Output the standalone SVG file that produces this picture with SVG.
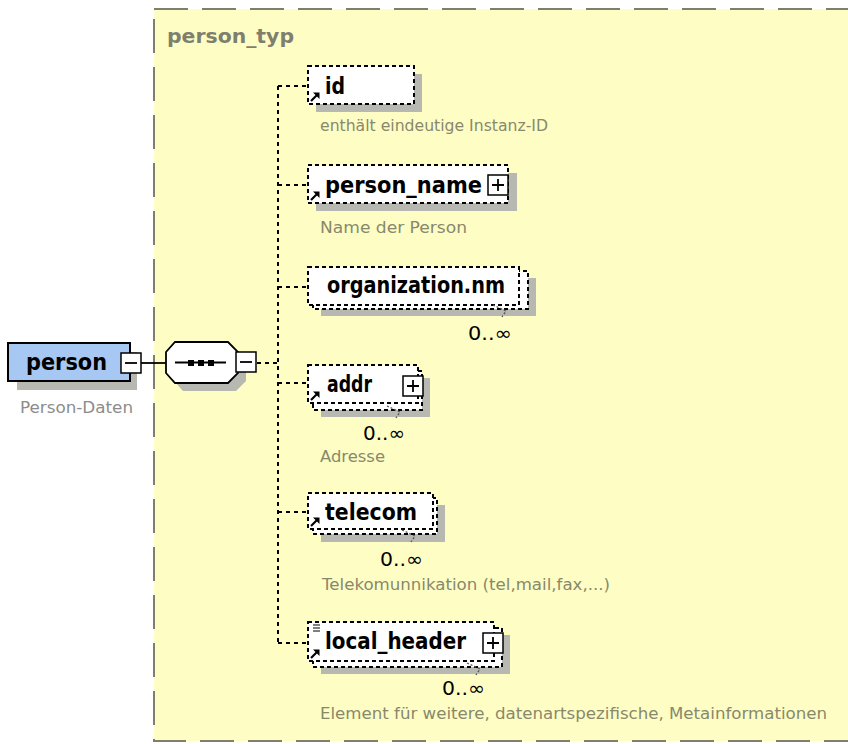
<svg xmlns="http://www.w3.org/2000/svg" xmlns:xlink="http://www.w3.org/1999/xlink" width="848" height="744" viewBox="0 0 848 744">
  <style>
    .panel { fill: #fefec4; stroke: #7f7f6e; stroke-width: 2; stroke-dasharray: 34 14; }
    .sh { fill: #b8b8b2; }
    .el { fill: #ffffff; stroke: #000; stroke-width: 2; stroke-dasharray: 4 3; }
    .conn { fill: none; stroke: #000; stroke-width: 2; stroke-dasharray: 4 4; }
    .solid { fill: none; stroke: #000; stroke-width: 1.8; }
    .btn rect { fill: #fff; stroke: #000; stroke-width: 1.5; }
    .btn path { stroke: #000; stroke-width: 1.8; fill: none; }
    .name { font-family: "DejaVu Sans", Verdana, sans-serif; font-weight: bold; font-size: 23px; fill: #000; }
    .title { font-family: "DejaVu Sans", Verdana, sans-serif; font-weight: bold; font-size: 20px; fill: #7f7f6e; }
    .desc { font-family: "DejaVu Sans", Verdana, sans-serif; font-size: 16px; fill: #88886c; }
    .mult { font-family: "DejaVu Sans", Verdana, sans-serif; font-size: 19px; fill: #000; }
    .tick { fill: none; stroke: #555; stroke-width: 1.3; stroke-dasharray: 2 2; }
  </style>
  <defs>
    <g id="plus" class="btn">
      <rect x="0" y="0" width="20" height="20"/>
      <path d="M4 10H16M10 4V16"/>
    </g>
    <g id="minus" class="btn">
      <rect x="0" y="0" width="20" height="20"/>
      <path d="M4 10H16"/>
    </g>
    <g id="refArrow">
      <path d="M0 0L6 -6" stroke="#000" stroke-width="2.2" fill="none"/>
      <path d="M8.5 -8.5L8.5 -2L2 -8.5Z" fill="#000"/>
    </g>
  </defs>

  <!-- white page background -->
  <rect x="0" y="0" width="848" height="744" fill="#ffffff"/>

  <!-- complex type panel -->
  <g id="person_typ">
    <rect class="panel" x="154" y="9" width="730" height="732"/>
    <text class="title" x="167" y="43" textLength="127" lengthAdjust="spacingAndGlyphs">person_typ</text>
  </g>

  <!-- connectors -->
  <g id="connectors">
    <path class="solid" d="M141 363H166"/>
    <path class="conn" d="M257 363H278"/>
    <path class="conn" d="M278 86V643"/>
    <path class="conn" d="M278 86H308"/>
    <path class="conn" d="M278 185H308"/>
    <path class="conn" d="M278 287H308"/>
    <path class="conn" d="M278 383H308"/>
    <path class="conn" d="M278 512H308"/>
    <path class="conn" d="M278 643H308"/>
  </g>

  <!-- root element -->
  <g id="person">
    <rect class="sh" x="17" y="352" width="120" height="38"/>
    <rect x="8" y="343" width="122" height="38" fill="#a6c8f2" stroke="#000" stroke-width="2"/>
    <text class="name" x="26" y="370" textLength="81" lengthAdjust="spacingAndGlyphs">person</text>
    <use xlink:href="#minus" x="121" y="353"/>
    <text class="desc" x="20" y="413" style="fill:#8c8c8c" textLength="113" lengthAdjust="spacingAndGlyphs">Person-Daten</text>
  </g>

  <!-- sequence compositor -->
  <g id="sequence">
    <polygon class="sh" points="183,350 236,350 246,360 246,381 236,391 183,391 174,381 174,360"/>
    <polygon points="175,342 228,342 238,352 238,373 228,383 175,383 166,373 166,352" fill="#fff" stroke="#000" stroke-width="1.8"/>
    <path class="solid" d="M175 362.5H226"/>
    <rect x="188" y="360" width="6" height="6" fill="#000"/>
    <rect x="198" y="360" width="6" height="6" fill="#000"/>
    <rect x="208" y="360" width="6" height="6" fill="#000"/>
    <use xlink:href="#minus" x="236" y="352"/>
  </g>

  <!-- id -->
  <g id="id">
    <rect class="sh" x="316" y="74" width="106" height="38"/>
    <rect class="el" x="308" y="66" width="106" height="38"/>
    <use xlink:href="#refArrow" x="311" y="101"/>
    <text class="name" x="325" y="94" textLength="20" lengthAdjust="spacingAndGlyphs">id</text>
    <text class="desc" x="320" y="131" textLength="228" lengthAdjust="spacingAndGlyphs">enthält eindeutige Instanz-ID</text>
  </g>

  <!-- person_name -->
  <g id="person_name">
    <rect class="sh" x="316" y="173" width="201" height="38"/>
    <rect class="el" x="308" y="165" width="200" height="38"/>
    <use xlink:href="#refArrow" x="311" y="200"/>
    <text class="name" x="325" y="193" textLength="157" lengthAdjust="spacingAndGlyphs">person_name</text>
    <use xlink:href="#plus" x="488" y="175"/>
    <text class="desc" x="320" y="233" textLength="147" lengthAdjust="spacingAndGlyphs">Name der Person</text>
  </g>

  <!-- organization.nm -->
  <g id="organization_nm">
    <rect class="sh" x="321" y="278" width="215" height="38"/>
    <rect class="el" x="313" y="271" width="215" height="38"/>
    <rect class="el" x="308" y="267" width="211" height="38"/>
    <path class="tick" d="M493 305L506 311L502 317"/>
    <text class="name" x="327" y="293" textLength="178" lengthAdjust="spacingAndGlyphs">organization.nm</text>
    <text class="mult" x="468" y="340" textLength="44" lengthAdjust="spacingAndGlyphs">0..∞</text>
  </g>

  <!-- addr -->
  <g id="addr">
    <rect class="sh" x="321" y="378" width="109" height="39"/>
    <rect class="el" x="313" y="371" width="109" height="39"/>
    <rect class="el" x="308" y="365" width="110" height="38"/>
    <use xlink:href="#refArrow" x="311" y="400"/>
    <text class="name" x="327" y="392" textLength="45" lengthAdjust="spacingAndGlyphs">addr</text>
    <use xlink:href="#plus" x="403" y="376"/>
    <path class="tick" d="M387 406L400 412L396 418"/>
    <text class="mult" x="363" y="440" textLength="42" lengthAdjust="spacingAndGlyphs">0..∞</text>
    <text class="desc" x="320" y="462" textLength="65" lengthAdjust="spacingAndGlyphs">Adresse</text>
  </g>

  <!-- telecom -->
  <g id="telecom">
    <rect class="sh" x="321" y="505" width="124" height="37"/>
    <rect class="el" x="313" y="498" width="124" height="36"/>
    <rect class="el" x="308" y="493" width="125" height="36"/>
    <use xlink:href="#refArrow" x="311" y="526"/>
    <text class="name" x="325" y="520" textLength="92" lengthAdjust="spacingAndGlyphs">telecom</text>
    <path class="tick" d="M402 530L415 536L411 542"/>
    <text class="mult" x="380" y="566" textLength="43" lengthAdjust="spacingAndGlyphs">0..∞</text>
    <text class="desc" x="322" y="590" textLength="288" lengthAdjust="spacingAndGlyphs">Telekomunnikation (tel,mail,fax,...)</text>
  </g>

  <!-- local_header -->
  <g id="local_header">
    <rect class="sh" x="321" y="635" width="189" height="39"/>
    <rect class="el" x="313" y="628" width="189" height="39"/>
    <rect class="el" x="308" y="622" width="186" height="39"/>
    <path d="M313 625H320M313 628H320M313 631H320" stroke="#000" stroke-width="1"/>
    <use xlink:href="#refArrow" x="311" y="658"/>
    <text class="name" x="325" y="649" textLength="141" lengthAdjust="spacingAndGlyphs">local_header</text>
    <use xlink:href="#plus" x="483" y="633"/>
    <path class="tick" d="M467 663L480 669L476 675"/>
    <text class="mult" x="442" y="695" textLength="43" lengthAdjust="spacingAndGlyphs">0..∞</text>
    <text class="desc" x="320" y="719" textLength="507" lengthAdjust="spacingAndGlyphs">Element für weitere, datenartspezifische, Metainformationen</text>
  </g>
</svg>
